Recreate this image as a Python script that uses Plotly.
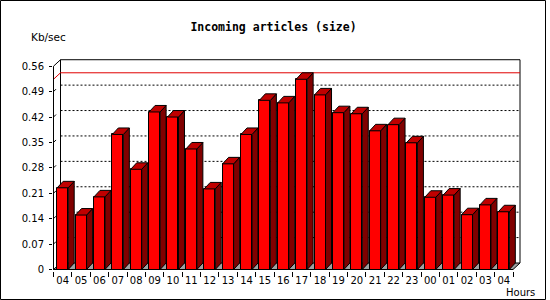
import plotly.graph_objects as go

# ---------------- data ----------------
hours = ["04", "05", "06", "07", "08", "09", "10", "11", "12", "13", "14", "15", "16",
         "17", "18", "19", "20", "21", "22", "23", "00", "01", "02", "03", "04"]
kbps = [0.225, 0.150, 0.200, 0.372, 0.276, 0.434, 0.420, 0.332, 0.222, 0.291, 0.372, 0.466, 0.459,
        0.524, 0.481, 0.432, 0.429, 0.382, 0.399, 0.349, 0.199, 0.205, 0.151, 0.178, 0.159]
ytick_vals = [0, 0.07, 0.14, 0.21, 0.28, 0.35, 0.42, 0.49, 0.56]
ytick_text = ["0", "0.07", "0.14", "0.21", "0.28", "0.35", "0.42", "0.49", "0.56"]
title_text = "Incoming articles (size)"
yunit_text = "Kb/sec"
xunit_text = "Hours"

# ---------------- geometry ----------------
W, H = 550, 300
L, R, T, B = 53, 24, 55, 29
SX = 18.38          # px per category
SY = 363.0          # px per unit of value
x_min = -0.5 - 0.5 / SX
x_max = x_min + (W - L - R) / SX
y_min = -1.5 / SY
y_max = y_min + (H - T - B) / SY

n = len(hours)
xs = list(range(n))
BW = 0.6                     # bar width (category units)
bdx, bdy = 6 / SX, 6.5 / SY  # bar depth
fdx, fdy = 7 / SX, 6.5 / SY  # plot depth
ytop = ytick_vals[-1]
x_left, x_right = -0.5, n - 0.5

def px2paper_x(p):
    return (p - L) / (W - L - R)

def px2paper_y(q):
    return (H - B - q) / (H - T - B)

shapes = []
# floor (grey)
shapes.append(dict(type="path", xref="x", yref="y", layer="below",
                   path=f"M {x_left},0 L {x_right},0 L {x_right+fdx},{fdy} L {x_left+fdx},{fdy} Z",
                   fillcolor="#A0A0A0", line=dict(color="black", width=1)))
# dotted gridlines on back wall
for v in ytick_vals[1:-1]:
    shapes.append(dict(type="line", xref="x", yref="y", layer="below",
                       x0=x_left + fdx, x1=x_right + fdx, y0=v + fdy, y1=v + fdy,
                       line=dict(color="black", width=1, dash="2px,2px")))
# back wall frame
shapes.append(dict(type="line", xref="x", yref="y", layer="below",
                   x0=x_left + fdx, x1=x_right + fdx, y0=ytop + fdy, y1=ytop + fdy,
                   line=dict(color="black", width=1)))
shapes.append(dict(type="line", xref="x", yref="y", layer="below",
                   x0=x_left + fdx, x1=x_left + fdx, y0=fdy, y1=ytop + fdy,
                   line=dict(color="black", width=1)))
shapes.append(dict(type="line", xref="x", yref="y", layer="below",
                   x0=x_right + fdx, x1=x_right + fdx, y0=fdy, y1=ytop + fdy,
                   line=dict(color="black", width=1)))
shapes.append(dict(type="line", xref="x", yref="y", layer="below",
                   x0=x_left, x1=x_left + fdx, y0=ytop, y1=ytop + fdy,
                   line=dict(color="black", width=1)))
# small inward diagonal ticks on the left wall
for v in ytick_vals[1:-1]:
    shapes.append(dict(type="line", xref="x", yref="y", layer="below",
                       x0=x_left, x1=x_left + 2.5 / SX, y0=v, y1=v + 2.5 / SY,
                       line=dict(color="black", width=1)))
# max line (red)
vmax = max(kbps)
shapes.append(dict(type="path", xref="x", yref="y", layer="below",
                   path=f"M {x_left},{vmax} L {x_left+fdx},{vmax+fdy} L {x_right+fdx},{vmax+fdy}",
                   line=dict(color="#E00000", width=1)))
# front axes
shapes.append(dict(type="line", xref="x", yref="y", layer="above",
                   x0=x_left, x1=x_left, y0=0, y1=ytop, line=dict(color="black", width=1)))
shapes.append(dict(type="line", xref="x", yref="y", layer="above",
                   x0=x_left, x1=x_right, y0=0, y1=0, line=dict(color="black", width=1)))
# outer border
shapes.append(dict(type="rect", xref="paper", yref="paper", layer="above",
                   x0=px2paper_x(0.5), x1=px2paper_x(545.5),
                   y0=px2paper_y(299.5), y1=px2paper_y(0.5),
                   line=dict(color="black", width=1), fillcolor="rgba(0,0,0,0)"))

# side and top faces
side_x, side_y, top_x, top_y = [], [], [], []
for x, v in zip(xs, kbps):
    r = x + BW / 2
    l = x - BW / 2
    side_x += [r, r + bdx, r + bdx, r, r, None]
    side_y += [0, bdy, v + bdy, v, 0, None]
    top_x += [l, l + bdx, r + bdx, r, l, None]
    top_y += [v, v + bdy, v + bdy, v, v, None]

fig = go.Figure()
fig.add_trace(go.Bar(x=xs, y=kbps, width=BW,
                     marker=dict(color="#FF0000", line=dict(color="black", width=1)),
                     hoverinfo="skip"))
fig.add_trace(go.Scatter(x=side_x, y=side_y, mode="lines", fill="toself",
                         fillcolor="#800000", line=dict(color="black", width=1),
                         hoverinfo="skip"))
fig.add_trace(go.Scatter(x=top_x, y=top_y, mode="lines", fill="toself",
                         fillcolor="#C00000", line=dict(color="black", width=1),
                         hoverinfo="skip"))

tickfont = dict(family="DejaVu Sans", size=10, color="black")
fig.update_layout(
    width=W, height=H, margin=dict(l=L, r=R, t=T, b=B),
    paper_bgcolor="white", plot_bgcolor="white",
    showlegend=False,
    bargap=0,
    shapes=shapes,
    title=dict(text=title_text, x=273.5 / W, xref="container", xanchor="center",
               y=1 - 27 / H, yref="container", yanchor="middle",
               font=dict(family="DejaVu Sans Mono", size=11.5, color="black", weight="bold")),
    xaxis=dict(range=[x_min, x_max], tickmode="array", tickvals=xs, ticktext=hours,
               ticks="", showgrid=False, zeroline=False, showline=False,
               tickfont=tickfont, ticklabelstandoff=2,
               minor=dict(ticks="outside", ticklen=5, tickcolor="black", tickwidth=1,
                          tick0=-0.5, dtick=1, showgrid=False)),
    yaxis=dict(range=[y_min, y_max], tickmode="array", tickvals=ytick_vals, ticktext=ytick_text,
               ticks="outside", ticklen=3, tickcolor="black", tickwidth=1,
               showgrid=False, zeroline=False, showline=False,
               tickfont=tickfont, ticklabelstandoff=3),
    annotations=[
        dict(text=yunit_text, xref="paper", yref="paper", x=px2paper_x(29), y=px2paper_y(36.7),
             xanchor="left", yanchor="middle", showarrow=False,
             font=dict(family="DejaVu Sans", size=10.5, color="black")),
        dict(text=xunit_text, xref="paper", yref="paper", x=px2paper_x(504), y=px2paper_y(292.5),
             xanchor="left", yanchor="middle", showarrow=False,
             font=dict(family="DejaVu Sans", size=10, color="black")),
    ],
)

fig.write_html("out.html")
